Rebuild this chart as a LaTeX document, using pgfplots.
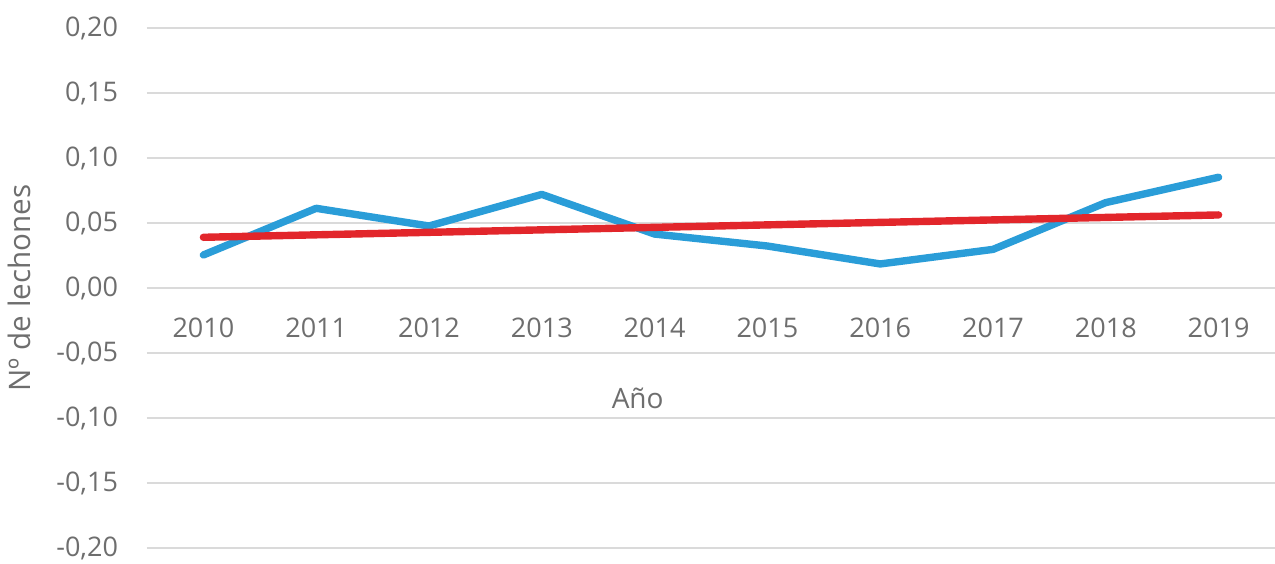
\documentclass[border=0pt]{standalone}
\usepackage{fontspec}
\setmainfont{Open Sans}
\usepackage{pgfplots}
\pgfplotsset{compat=1.18}
\definecolor{txtgray}{HTML}{6E6E6E}
\definecolor{gridgray}{HTML}{DADADA}
\definecolor{lineblue}{HTML}{2A9DD8}
\definecolor{trendred}{HTML}{E2262B}

\begin{document}
\begin{tikzpicture}
\useasboundingbox (0,0) rectangle (637.5pt,281.5pt);
\begin{axis}[
    at={(73.5pt,7.5pt)}, anchor=south west,
    scale only axis,
    width=564pt, height=260pt,
    xmin=-0.5, xmax=9.5,
    ymin=-0.2, ymax=0.2,
    ytick={-0.2,-0.15,...,0.21},
    xtick={0,...,9},
    xticklabels={2010,2011,2012,2013,2014,2015,2016,2017,2018,2019},
    axis line style={draw=none},
    major tick length=0pt,
    ymajorgrids,
    grid style={gridgray, line width=1pt},
    font=\fontsize{13.5}{16}\selectfont,
    tick label style={txtgray},
    /pgf/number format/.cd, fixed, fixed zerofill, precision=2, use comma, assume math mode=true,
    /pgfplots/.cd,
    yticklabel style={xshift=-11pt},
    xticklabel style={anchor=center, yshift=110pt},
    xlabel={Año},
    ylabel={Nº de lechones},
    label style={txtgray},
    xlabel style={at={(rel axis cs:0.435,0.288)}, anchor=center, font=\fontsize{14}{16}\selectfont},
    ylabel style={at={(rel axis cs:-0.1135,0.5)}, anchor=center, font=\fontsize{14.8}{17}\selectfont},
]
\addplot[lineblue, line width=3.7pt, line cap=round, line join=round] coordinates {
    (0,0.0254) (1,0.0613) (2,0.0477) (3,0.0720) (4,0.0415)
    (5,0.0323) (6,0.0185) (7,0.0297) (8,0.0657) (9,0.0852)
};
\addplot[trendred, line width=3.7pt, line cap=round] coordinates {
    (0,0.0390) (9,0.0562)
};
\end{axis}
\end{tikzpicture}
\end{document}
